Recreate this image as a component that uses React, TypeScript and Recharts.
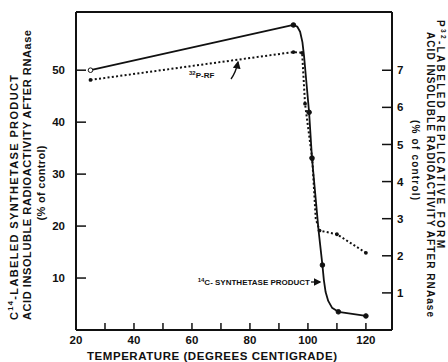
import { ComposedChart, Line, XAxis, YAxis, ReferenceLine } from "recharts";

const FONT = '"Liberation Sans", Arial, sans-serif';

// 14C-synthetase product, left axis (% of control)
const productTemp = [25, 95, 96.3, 97.3, 98.1, 98.7, 100.4, 101.4, 103.7, 105, 105.5, 106.1, 107, 108.3, 110.5, 120];
const productPct = [50, 58.7, 58.4, 57.4, 55.4, 52.5, 41.9, 33.1, 19, 12.5, 9.6, 7.3, 5.6, 4.3, 3.5, 2.7];
const productMarked = [1, 1, 0, 0, 0, 0, 1, 1, 0, 1, 0, 0, 0, 0, 1, 1];

// 32P replicative form, right axis (% of control)
const rfTemp = [25, 95, 98, 99, 101.5, 102.7, 104, 110, 120];
const rfPct = [6.74, 7.49, 7.47, 6.1, 4.6, 3.0, 2.68, 2.58, 2.08];
const rfMarked = [1, 1, 1, 1, 1, 0, 1, 1, 1];

const tempTicks = [20, 30, 40, 50, 60, 70, 80, 90, 100, 110, 120];
const tempLabels = [20, 40, 60, 80, 100, 120];
const productTicks = [10, 20, 30, 40, 50];
const rfTicks = [1, 2, 3, 4, 5, 6, 7];

const X_DOMAIN = [20, 129];
const LEFT_MAX = 61.2;
const RIGHT_MAX = 8.57;

const productData = productTemp.map((x, i) => ({
  x,
  y: productPct[i],
  m: productMarked[i],
  open: i === 0,
}));
const rfData = rfTemp.map((x, i) => ({ x, y: rfPct[i], m: rfMarked[i] }));

const tickStyle = { fill: "#111", fontSize: 11.5, fontWeight: 700, fontFamily: FONT };

const ProductDot = (p: any) => {
  if (!p.payload?.m) return <g key={p.index} />;
  return (
    <circle
      key={p.index}
      cx={p.cx}
      cy={p.cy}
      r={2.3}
      fill={p.payload.open ? "#fff" : "#111"}
      stroke="#111"
      strokeWidth={1}
    />
  );
};

const RfDot = (p: any) => {
  if (!p.payload?.m) return <g key={p.index} />;
  return <circle key={p.index} cx={p.cx} cy={p.cy} r={1.9} fill="#111" />;
};

const labelText = { fill: "#111", fontSize: 11, fontWeight: 700, fontFamily: FONT };
const rightText = { ...labelText, fontSize: 10 };

export default function App() {
  return (
    <div style={{ position: "absolute", left: 0, top: 0, width: 448, height: 362, background: "#fff" }}>
      <ComposedChart
        width={448}
        height={362}
        margin={{ top: 12, right: 0, bottom: 0, left: 0 }}
      >
        <XAxis
          type="number"
          dataKey="x"
          domain={X_DOMAIN}
          allowDataOverflow
          ticks={tempTicks}
          interval={0}
          tickFormatter={(v) => (tempLabels.includes(v) ? String(v) : "")}
          height={32}
          tickSize={-7}
          tickMargin={13}
          axisLine={{ stroke: "#111", strokeWidth: 2 }}
          tickLine={{ stroke: "#111", strokeWidth: 1.5 }}
          tick={tickStyle}
        />
        <YAxis
          yAxisId="left"
          type="number"
          domain={[0, LEFT_MAX]}
          allowDataOverflow
          ticks={productTicks}
          interval={0}
          width={76}
          tickSize={-10}
          tickMargin={21}
          axisLine={{ stroke: "#111", strokeWidth: 2 }}
          tickLine={{ stroke: "#111", strokeWidth: 1.5 }}
          tick={tickStyle}
        />
        <YAxis
          yAxisId="right"
          orientation="right"
          type="number"
          domain={[0, RIGHT_MAX]}
          allowDataOverflow
          ticks={rfTicks}
          interval={0}
          width={56}
          tickSize={-10}
          tickMargin={15}
          axisLine={{ stroke: "#111", strokeWidth: 2 }}
          tickLine={{ stroke: "#111", strokeWidth: 1.5 }}
          tick={tickStyle}
        />
        <ReferenceLine yAxisId="left" y={LEFT_MAX} stroke="#111" strokeWidth={2} ifOverflow="visible" />
        <Line
          yAxisId="right"
          data={rfData}
          dataKey="y"
          type="linear"
          stroke="#111"
          strokeWidth={2}
          strokeDasharray="2 2.3"
          dot={RfDot}
          activeDot={false}
          isAnimationActive={false}
        />
        <Line
          yAxisId="left"
          data={productData}
          dataKey="y"
          type="linear"
          stroke="#111"
          strokeWidth={1.8}
          strokeLinejoin="round"
          dot={ProductDot}
          activeDot={false}
          isAnimationActive={false}
        />
      </ComposedChart>
      <svg
        width={448}
        height={362}
        style={{ position: "absolute", left: 0, top: 0, pointerEvents: "none" }}
      >
        <defs>
          <marker id="ah" viewBox="0 0 6 6" refX="5" refY="3" markerWidth="6" markerHeight="6" orient="auto">
            <path d="M0,0 L6,3 L0,6 Z" fill="#111" />
          </marker>
        </defs>
        {/* left axis title */}
        <text transform="translate(13.5,320) rotate(-90)" textAnchor="start" dominantBaseline="central" textLength={245} lengthAdjust="spacing" {...labelText}>
          C<tspan fontSize={7.5} dy={-4}>14</tspan><tspan dy={4}>-LABELED SYNTHETASE PRODUCT</tspan>
        </text>
        <text transform="translate(27,320) rotate(-90)" textAnchor="start" dominantBaseline="central" textLength={290} lengthAdjust="spacing" {...labelText}>
          ACID INSOLUBLE RADIOACTIVITY AFTER RNAase
        </text>
        <text transform="translate(41,183) rotate(-90)" textAnchor="middle" dominantBaseline="central" textLength={75} lengthAdjust="spacing" {...labelText}>
          (% of control)
        </text>
        {/* right axis title */}
        <text transform="translate(440.5,20) rotate(90)" textAnchor="start" dominantBaseline="central" textLength={228} lengthAdjust="spacing" {...rightText}>
          P<tspan fontSize={6.5} dy={-3}>32</tspan><tspan dy={3}>-LABELED REPLICATIVE FORM</tspan>
        </text>
        <text transform="translate(430,32) rotate(90)" textAnchor="start" dominantBaseline="central" textLength={285} lengthAdjust="spacing" {...rightText}>
          ACID INSOLUBLE RADIOACTIVITY AFTER RNAase
        </text>
        <text transform="translate(415,120) rotate(90)" textAnchor="start" dominantBaseline="central" textLength={80} lengthAdjust="spacing" {...rightText}>
          (% of control)
        </text>
        {/* x axis title */}
        <text x={87} y={360} textLength={250} lengthAdjust="spacing" {...labelText} fontSize={11.5}>
          TEMPERATURE (DEGREES CENTIGRADE)
        </text>
        {/* series annotations */}
        <text x={189} y={78} {...labelText} fontSize={8}>
          <tspan fontSize={6} dy={-3}>32</tspan><tspan dy={3}>P-RF</tspan>
        </text>
        <path d="M231,79 Q236,72 238,62" fill="none" stroke="#111" strokeWidth={1.3} markerEnd="url(#ah)" />
        <text x={310} y={285} textAnchor="end" {...labelText} fontSize={8}>
          <tspan fontSize={6} dy={-3}>14</tspan><tspan dy={3}>C- SYNTHETASE PRODUCT</tspan>
        </text>
        <line x1={311} y1={282} x2={320} y2={282} stroke="#111" strokeWidth={1.3} markerEnd="url(#ah)" />
      </svg>
    </div>
  );
}
